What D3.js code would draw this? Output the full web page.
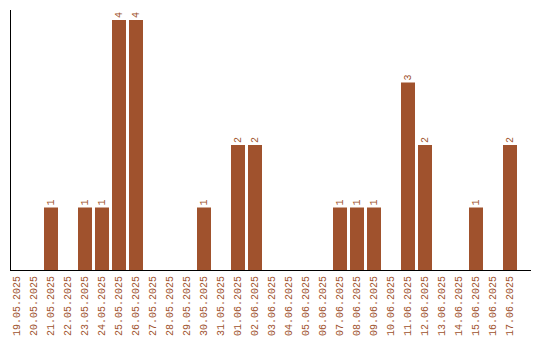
<!DOCTYPE html>
<html><head><meta charset="utf-8">
<script src="https://cdn.jsdelivr.net/npm/d3@7"></script>
<style>html,body{margin:0;padding:0;background:#fff;}</style>
</head><body>
<svg id="c" width="540" height="340"></svg>
<script>
const dates = ["19.05.2025","20.05.2025","21.05.2025","22.05.2025","23.05.2025","24.05.2025","25.05.2025","26.05.2025","27.05.2025","28.05.2025","29.05.2025","30.05.2025","31.05.2025","01.06.2025","02.06.2025","03.06.2025","04.06.2025","05.06.2025","06.06.2025","07.06.2025","08.06.2025","09.06.2025","10.06.2025","11.06.2025","12.06.2025","13.06.2025","14.06.2025","15.06.2025","16.06.2025","17.06.2025"];
const counts = [0,0,1,0,1,1,4,4,0,0,0,1,0,2,2,0,0,0,0,1,1,1,0,3,2,0,0,1,0,2];

const color = "#A0522D";
const font = "'Liberation Mono', 'Courier New', monospace";
const svg = d3.select("#c");
const x = d3.scaleBand().domain(dates).range([10, 517]).paddingInner(3/17).paddingOuter(0);
const y = d3.scaleLinear().domain([0, 4]).range([270, 20]);

const data = dates.map((d, i) => ({d, v: counts[i]}));

svg.selectAll("rect.bar").data(data.filter(e => e.v > 0)).enter().append("rect")
  .attr("class", "bar")
  .attr("x", e => x(e.d)).attr("width", x.bandwidth())
  .attr("y", e => y(e.v)).attr("height", e => y(0) - y(e.v))
  .attr("fill", color);

svg.selectAll("text.val").data(data.filter(e => e.v > 0)).enter().append("text")
  .attr("class", "val")
  .attr("transform", e => `translate(${x(e.d) + x.bandwidth()/2},${y(e.v) - 2}) rotate(-90)`)
  .attr("text-anchor", "start").attr("dominant-baseline", "central")
  .attr("font-family", font).attr("font-size", 10).attr("fill", color)
  .text(e => e.v);

svg.selectAll("text.lab").data(data).enter().append("text")
  .attr("class", "lab")
  .attr("transform", e => `translate(${x(e.d) + x.bandwidth()/2},276) rotate(-90)`)
  .attr("text-anchor", "end").attr("dominant-baseline", "central")
  .attr("font-family", font).attr("font-size", 10).attr("fill", color)
  .text(e => e.d);

svg.append("line").attr("x1", 10.5).attr("x2", 10.5).attr("y1", 10).attr("y2", 270.5)
  .attr("stroke", "#000").attr("stroke-width", 1);
svg.append("line").attr("x1", 10).attr("x2", 531).attr("y1", 270.5).attr("y2", 270.5)
  .attr("stroke", "#000").attr("stroke-width", 1);
</script>
</body></html>
